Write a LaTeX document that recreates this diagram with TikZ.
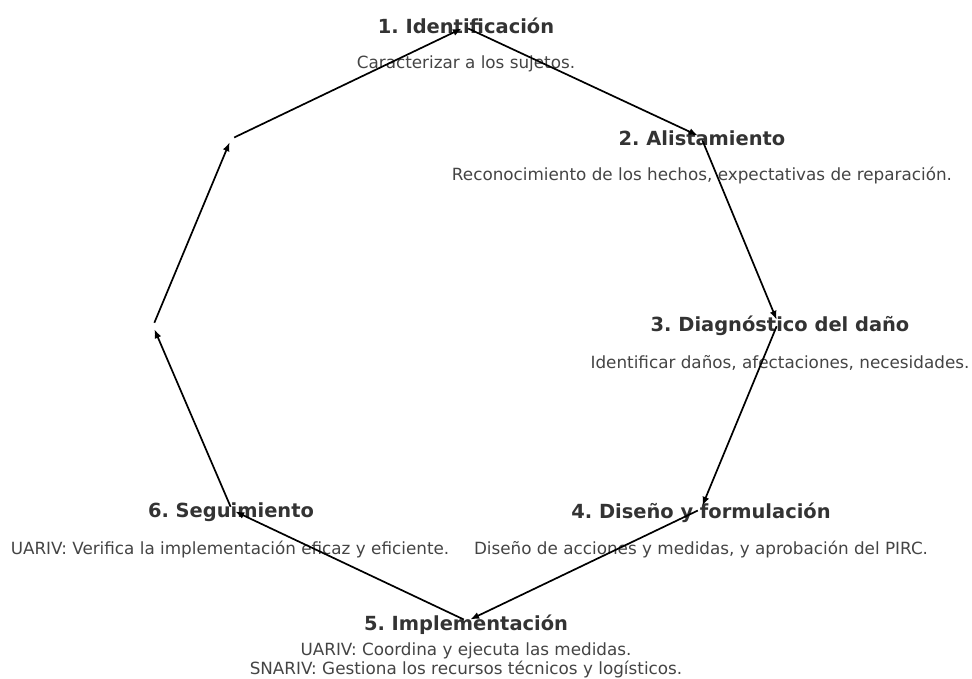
\documentclass[tikz,border=0pt]{standalone}
\usepackage{fontspec}
\setmainfont{DejaVu Sans}
\usetikzlibrary{arrows.meta}
\definecolor{titlec}{HTML}{333333}
\definecolor{bodyc}{HTML}{444444}
\tikzset{
  stitle/.style={font=\frenchspacing\bfseries\fontsize{19.44}{23}\selectfont, text=titlec, inner sep=0pt, anchor=center},
  sbody/.style={font=\frenchspacing\fontsize{16.8}{19.5}\selectfont, text=bodyc, inner sep=0pt, anchor=center, align=center},
  flow/.style={line width=1.7pt, draw=black, -{Latex[length=9pt,width=7pt]}, shorten <=3.5pt, shorten >=3.5pt}
}
\begin{document}
\begin{tikzpicture}[x=1pt,y=-1pt]
\useasboundingbox (0,0) rectangle (972,678);
% points
\coordinate (p1) at (465,27);
\coordinate (p2) at (701,137);
\coordinate (p3) at (778,323);
\coordinate (p4) at (701,509);
\coordinate (p5) at (467,621);
\coordinate (p6) at (232,510);
\coordinate (p7) at (153,326);
\coordinate (p8) at (231,139);
% labels
\node[stitle] (t1) at (466,26) {1. Identificación};
\node[sbody] (d1) at (466,64) {Caracterizar a los sujetos.};
\node[stitle] (t2) at (702,138) {2. Alistamiento};
\node[sbody] (d2) at (702,176) {Reconocimiento de los hechos, expectativas de reparación.};
\node[stitle] (t3) at (780,326) {3. Diagnóstico del daño};
\node[sbody] (d3) at (780,363) {Identificar daños, afectaciones, necesidades.};
\node[stitle] (t4) at (701,513) {4. Diseño y formulación};
\node[sbody] (d4) at (701,550) {Diseño de acciones y medidas, y aprobación del PIRC.};
\node[stitle] (t5) at (466,625) {5. Implementación};
\node[sbody] (d5) at (466,651) {UARIV: Coordina y ejecuta las medidas.};
\node[sbody] (e5) at (466,669.5) {SNARIV: Gestiona los recursos técnicos y logísticos.};
\node[stitle] (t6) at (231,512) {6. Seguimiento};
\node[sbody] (d6) at (230,550) {UARIV: Verifica la implementación eficaz y eficiente.};
% connectors
\draw[flow] (p1) -- (p2);
\draw[flow] (p2) -- (p3);
\draw[flow] (p3) -- (p4);
\draw[flow] (p4) -- (p5);
\draw[flow] (p5) -- (p6);
\draw[flow] (p6) -- (p7);
\draw[flow] (p7) -- (p8);
\draw[flow] (p8) -- (p1);
\end{tikzpicture}
\end{document}
